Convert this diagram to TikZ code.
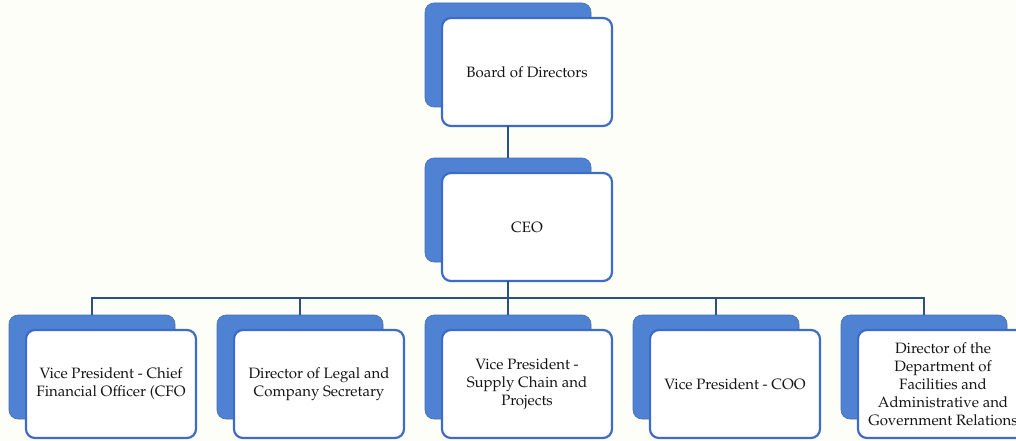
\documentclass[tikz,border=0pt]{standalone}
\usepackage[T1]{fontenc}
\usepackage{mathpazo}
\definecolor{backblue}{RGB}{80,130,212}
\definecolor{edgeblue}{RGB}{60,108,198}
\definecolor{linkblue}{RGB}{42,80,135}
\definecolor{paper}{RGB}{254,254,249}
\tikzset{
  backcard/.style={fill=backblue, draw=backblue!85!black, line width=0.6pt, rounded corners=9pt},
  frontcard/.style={fill=white, draw=edgeblue, line width=2.2pt, rounded corners=9pt},
  cardtext/.style={align=center, font=\fontsize{15}{18}\selectfont, text=black!92},
  link/.style={draw=linkblue, line width=2.6pt}
}
% one card: back panel at (#1,#2), front panel offset; #3 = name, #4 = label
\newcommand{\orgcard}[4]{%
  \path[backcard] (#1,#2) rectangle ++(166,104);
  \coordinate (#3-b) at ($(#1,#2)+(83,0)$);
  \path[frontcard] ($(#1,#2)+(17,15)$) rectangle ++(170,108);
  \node[cardtext] (#3) at ($(#1,#2)+(102,69)$) {#4};
  \coordinate (#3-s) at ($(#1,#2)+(83,123)$);
}
\usetikzlibrary{calc}
\begin{document}
\begin{tikzpicture}[x=1pt,y=-1pt]
\useasboundingbox (0,0) rectangle (1016,441);
\clip (0,0) rectangle (1016,441);
\fill[paper] (0,0) rectangle (1016,441);

\orgcard{425}{3}{board}{Board of Directors}
\orgcard{425}{158}{ceo}{CEO}

\orgcard{9}{315}{cfo}{Vice President - Chief\\Financial Officer (CFO}
\orgcard{217}{315}{legal}{Director of Legal and\\Company Secretary}
\orgcard{425}{315}{supply}{Vice President -\\Supply Chain and\\Projects}
\orgcard{633}{315}{coo}{Vice President - COO}
\orgcard{841}{315}{facil}{Director of the\\Department of\\Facilities and\\Administrative and\\Government Relations}

% connectors
\draw[link] (board-s) -- (ceo-b);
\coordinate (bus) at ($(ceo-s)+(0,17)$);
\draw[link] (ceo-s) -- (bus);
\draw[link, line cap=rect] (cfo-b |- bus) -- (facil-b |- bus);
\foreach \n in {cfo,legal,supply,coo,facil}
  \draw[link] (\n-b |- bus) -- (\n-b);
\end{tikzpicture}
\end{document}
